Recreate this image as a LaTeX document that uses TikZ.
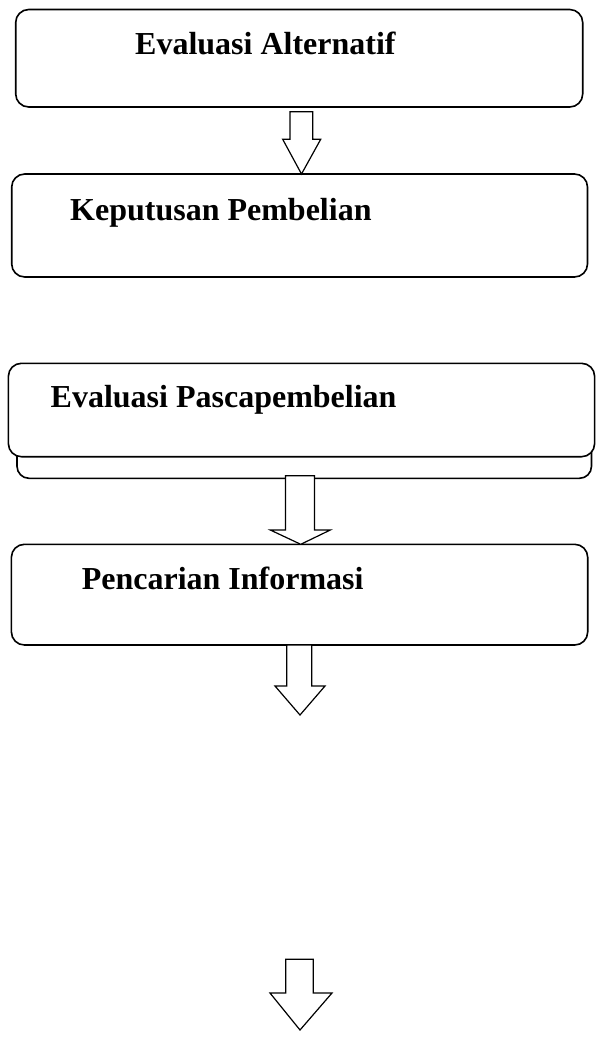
\documentclass[tikz,border=0pt]{standalone}
\usepackage{fontspec}
\setmainfont{Liberation Serif}
\usetikzlibrary{calc}
\begin{document}
\begin{tikzpicture}[x=1pt,y=-1pt,
  boxstyle/.style={draw=black, line width=1.6pt, rounded corners=13pt, fill=white,
    inner sep=0pt, outer sep=0pt},
  lbl/.style={anchor=base west, inner sep=0pt, font=\fontsize{32}{38}\selectfont\bfseries},
  blockarrow/.style={draw=black, line width=1.2pt, fill=white, line join=miter}]
\useasboundingbox (0,0) rectangle (595,1045);
% boxes
\node[boxstyle, minimum width=567pt, minimum height=97.5pt] (b1) at (299.2,58.25) {};
\node[boxstyle, minimum width=575.8pt, minimum height=103pt] (b2) at (299.6,225.5) {};
\node[boxstyle, rounded corners=12pt, minimum width=574.5pt, minimum height=48.3pt] (b3back) at (304.25,454.15) {};
\node[boxstyle, minimum width=586.2pt, minimum height=93.4pt] (b3) at (301.5,410) {};
\node[boxstyle, minimum width=576.3pt, minimum height=100.7pt] (b4) at (299.55,594.65) {};
% labels
\node[lbl] (t1) at (135,54.5) {Evaluasi Alternatif};
\node[lbl] (t2) at (70,220) {Keputusan Pembelian};
\node[lbl] (t3) at (50.5,407.5) {Evaluasi Pascapembelian};
\node[lbl] (t4) at (81.6,589.3) {Pencarian Informasi};
% block arrows (connectors)
\coordinate (tip1) at ($(b2.north)+(1.9,0)$);
\draw[blockarrow] (290,111.7) -- (312.7,111.7) -- (312.7,139.3) -- (320.7,139.3)
  -- (tip1) -- (282.7,139.3) -- (290,139.3) -- cycle;
\coordinate (tip2) at ($(b4.north)+(1.2,0)$);
\draw[blockarrow] ($(b3back.south)+(-18.75,-2.6)$) -- ($(b3back.south)+(10.15,-2.6)$) -- (314.4,530) -- (330.3,530)
  -- (tip2) -- (270.3,530) -- (285.5,530) -- cycle;
\coordinate (tip3) at (300,715);
\draw[blockarrow] ($(b4.south)+(-12.85,0)$) -- ($(b4.south)+(12.15,0)$) -- (311.7,686) -- (325,686)
  -- (tip3) -- (275,686) -- (286.7,686) -- cycle;
\coordinate (top4) at (285.7,959.3);
\coordinate (tip4) at (300,1030);
\draw[blockarrow] (top4) -- (313.3,959.3) -- (313.3,993) -- (332,993)
  -- (tip4) -- (270,993) -- (285.7,993) -- cycle;
\end{tikzpicture}
\end{document}
